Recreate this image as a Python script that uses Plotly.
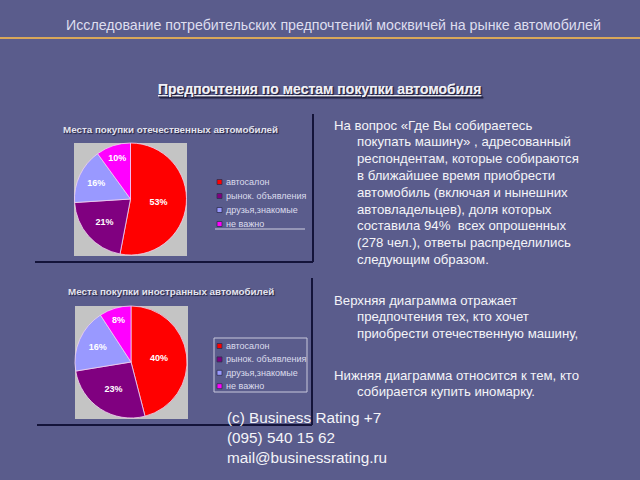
import plotly.graph_objects as go

W, H = 640, 480
BG = "#5a5c8c"
FONT = "Arial, Liberation Sans, sans-serif"

categories = ["автосалон", "рынок. объявления", "друзья,знакомые", "не важно"]
colors = ["#ff0000", "#800080", "#9999ff", "#ff00ff"]
domestic_values = [53, 21, 16, 10]
foreign_values = [40, 23, 16, 8]

slide_title = "Исследование потребительских предпочтений москвичей на рынке автомобилей"
subtitle = "Предпочтения по местам покупки автомобиля"
chart1_title = "Места покупки отечественных автомобилей"
chart2_title = "Места покупки иностранных автомобилей"
para1 = ["На вопрос «Где Вы собираетесь", "покупать машину» , адресованный",
         "респондентам, которые собираются", "в ближайшее время приобрести",
         "автомобиль (включая и нынешних", "автовладельцев), доля которых",
         "составила 94%  всех опрошенных", "(278 чел.), ответы распределились",
         "следующим образом."]
para2 = ["Верхняя диаграмма отражает", "предпочтения тех, кто хочет",
         "приобрести отечественную машину,"]
para3 = ["Нижняя диаграмма относится к тем, кто", "собирается купить иномарку."]
footer = ["(c) Business Rating +7", "(095) 540 15 62", "mail@businessrating.ru"]


def px(x):
    return x / W


def py(y):
    return 1 - y / H


fig = go.Figure()

shapes = []
annotations = []

# pie backgrounds (plot areas)
for (x0, y0, x1, y1) in [(74, 143, 187, 256), (75, 306, 188, 419)]:
    shapes.append(dict(type="rect", xref="paper", yref="paper",
                       x0=px(x0), x1=px(x1), y0=py(y1), y1=py(y0),
                       fillcolor="#c4c4c4", line=dict(width=0), layer="below"))


def add_pie(values, cx, cy, r):
    fig.add_trace(go.Pie(
        labels=categories, values=values,
        text=[f"{v}%" for v in values], textinfo="text",
        textposition="inside", insidetextorientation="horizontal",
        textfont=dict(family=FONT, size=9, color="white", weight="bold"),
        marker=dict(colors=colors, line=dict(color="#f0d0f0", width=0.8)),
        sort=False, direction="clockwise", rotation=0,
        domain=dict(x=[px(cx - r), px(cx + r)], y=[py(cy + r), py(cy - r)]),
        hoverinfo="skip", showlegend=False,
    ))


add_pie(domestic_values, 130.5, 199, 56)
add_pie(foreign_values, 131, 362, 56)


# legends (drawn as keys beside each pie)
def add_legend(y0, step):
    for i, (lab, col) in enumerate(zip(categories, colors)):
        y = y0 + i * step
        shapes.append(dict(type="rect", xref="paper", yref="paper",
                           x0=px(217), x1=px(222), y0=py(y + 2.5), y1=py(y - 2.5),
                           fillcolor=col, line=dict(color="#303050", width=0.8)))
        annotations.append(dict(text=lab, x=px(224), y=py(y), xref="paper", yref="paper",
                                showarrow=False, xanchor="left", yanchor="middle",
                                font=dict(family=FONT, size=9, color="#dcdcec")))


add_legend(182, 14)
add_legend(346, 13.4)
shapes.append(dict(type="line", xref="paper", yref="paper", x0=px(215), x1=px(305), y0=py(229), y1=py(229),
                   line=dict(color="#d0d0e0", width=1)))
shapes.append(dict(type="rect", xref="paper", yref="paper", x0=px(214), x1=px(307), y0=py(392), y1=py(338),
                   line=dict(color="#c8c8dc", width=1), fillcolor="rgba(0,0,0,0)"))

# slide title + orange rule
annotations.append(dict(text=slide_title, x=px(333), y=py(25), xref="paper", yref="paper",
                        showarrow=False, xanchor="center", yanchor="middle",
                        font=dict(family=FONT, size=14.2, color="#dedeef")))
shapes.append(dict(type="line", xref="paper", yref="paper", x0=0, x1=1, y0=py(38), y1=py(38),
                   line=dict(color="#d9a75a", width=2)))

# subtitle
annotations.append(dict(text="<b>" + subtitle + "</b>", x=px(319), y=py(89), xref="paper", yref="paper",
                        showarrow=False, xanchor="center", yanchor="middle",
                        font=dict(family=FONT, size=14, color="#f0f0f6", lineposition="under",
                                  shadow="1px 1px 1px #202040")))

# chart titles
annotations.append(dict(text="<b>" + chart1_title + "</b>", x=px(170), y=py(129), xref="paper", yref="paper",
                        showarrow=False, xanchor="center", yanchor="middle",
                        font=dict(family=FONT, size=9.8, color="#e4e4ee", shadow="1px 1px 1px #202040")))
annotations.append(dict(text="<b>" + chart2_title + "</b>", x=px(171), y=py(291), xref="paper", yref="paper",
                        showarrow=False, xanchor="center", yanchor="middle",
                        font=dict(family=FONT, size=9.8, color="#e4e4ee", shadow="1px 1px 1px #202040")))

# panel frame lines
FR = "#14143a"
shapes += [
    dict(type="line", xref="paper", yref="paper", x0=px(313), x1=px(313), y0=py(262), y1=py(114), line=dict(color=FR, width=2)),
    dict(type="line", xref="paper", yref="paper", x0=px(35), x1=px(313), y0=py(262), y1=py(262), line=dict(color=FR, width=2)),
    dict(type="line", xref="paper", yref="paper", x0=px(312), x1=px(312), y0=py(425), y1=py(278), line=dict(color=FR, width=2)),
    dict(type="line", xref="paper", yref="paper", x0=px(37), x1=px(312), y0=py(425), y1=py(425), line=dict(color=FR, width=2)),
]


# right text
def add_lines(lines, y0, step=16.8, size=13.2):
    for i, t in enumerate(lines):
        x = 332 if i == 0 else 355
        annotations.append(dict(text=t, x=px(x), y=py(y0 + i * step), xref="paper", yref="paper",
                                showarrow=False, xanchor="left", yanchor="middle",
                                font=dict(family=FONT, size=size, color="#f4f4f8")))


add_lines(para1, 125)
add_lines(para2, 300)
add_lines(para3, 375)

annotations.append(dict(text="<br>".join(footer), x=px(225), y=py(407), xref="paper", yref="paper",
                        showarrow=False, xanchor="left", yanchor="top", align="left",
                        font=dict(family=FONT, size=15.3, color="#f4f4f8")))

fig.update_layout(
    width=W, height=H, margin=dict(l=0, r=0, t=0, b=0),
    paper_bgcolor=BG, plot_bgcolor=BG,
    shapes=shapes, annotations=annotations,
    showlegend=False,
)

fig.write_html("out.html")
